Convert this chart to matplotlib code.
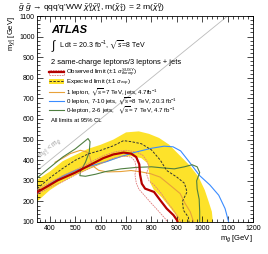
import matplotlib
matplotlib.use("Agg")
import matplotlib.pyplot as plt
import numpy as np
from matplotlib.legend import Legend
from matplotlib.lines import Line2D
from matplotlib.patches import Rectangle

plt.rcParams["font.family"] = ["Liberation Sans", "DejaVu Sans"]
plt.rcParams["mathtext.fontset"] = "custom"
plt.rcParams["mathtext.rm"] = "Liberation Sans"
plt.rcParams["mathtext.it"] = "Liberation Sans:italic"
plt.rcParams["mathtext.bf"] = "Liberation Sans:bold"
plt.rcParams["mathtext.fallback"] = "stixsans"

# expected +-1 sigma band
band_up_x = [350, 400, 450, 500, 550, 600, 650, 700, 750, 790, 830, 870, 910, 950, 985, 1010, 1025, 1038, 1042]
band_up_y = [305, 345, 395, 425, 455, 475, 500, 535, 540, 528, 508, 475, 425, 375, 320, 255, 200, 150, 100]
band_lo_x = [350, 400, 450, 500, 560, 620, 680, 720, 760, 785, 792, 795, 810, 840, 870, 895, 905]
band_lo_y = [200, 255, 295, 328, 360, 390, 415, 420, 410, 385, 330, 290, 255, 220, 175, 135, 100]

# expected limit
exp_x = [350, 400, 450, 500, 550, 600, 650, 690, 720, 760, 800, 835, 860, 900, 930, 940, 922, 926, 945, 948]
exp_y = [262, 315, 360, 400, 430, 448, 470, 495, 490, 480, 450, 400, 350, 318, 288, 246, 200, 157, 124, 100]

# observed limit and theory +-1 sigma
obs_x = [350, 400, 430, 500, 560, 610, 650, 690, 720, 740, 752, 755, 762, 775, 810, 835, 860, 887, 900, 903]
obs_y = [245, 280, 302, 340, 378, 410, 428, 437, 432, 415, 380, 330, 286, 262, 246, 205, 165, 133, 110, 100]
obs_up_x = [350, 400, 450, 500, 560, 610, 660, 700, 740, 765, 780, 790, 780, 790, 810, 835, 860, 885, 905, 915]
obs_up_y = [255, 292, 325, 352, 390, 422, 442, 448, 440, 425, 400, 370, 335, 300, 280, 245, 200, 160, 125, 100]
obs_dn_x = [350, 400, 450, 500, 560, 610, 650, 690, 720, 735, 740, 735, 740, 750, 775, 800, 830, 855, 862]
obs_dn_y = [235, 268, 295, 328, 362, 390, 410, 420, 415, 395, 360, 330, 290, 260, 225, 190, 150, 115, 100]

# 1 lepton, 7 TeV
lep1_x = [420, 450, 480, 520, 545, 555, 566, 592, 625, 680, 720, 760, 795, 834, 874, 913, 933, 953, 966]
lep1_y = [390, 410, 432, 448, 440, 425, 375, 351, 343, 345, 350, 343, 335, 318, 278, 238, 189, 149, 100]

# 0 lepton, 7-10 jets, 8 TeV
lep0a_x = [350, 400, 450, 500, 560, 620, 680, 740, 800, 850, 885, 915, 950, 990, 1030, 1065, 1090, 1104]
lep0a_y = [240, 285, 322, 350, 372, 392, 418, 440, 458, 468, 465, 445, 390, 325, 280, 230, 165, 100]

# 0 lepton, 2-6 jets, 7 TeV
lep0b_x = [350, 400, 450, 500, 535, 550, 558, 555, 540, 520, 518, 540, 580, 620, 680, 740, 800, 850, 890,
           930, 960, 980, 990, 978, 980, 988, 990, 990]
lep0b_y = [315, 365, 415, 455, 490, 505, 490, 440, 390, 345, 325, 322, 332, 345, 358, 365, 368, 362, 358,
           368, 378, 368, 340, 300, 260, 210, 150, 100]

diag_x = [350, 1100]
diag_y = [350, 1100]

RED = "#b40000"
PINK = "#e07a7a"
YELLOW = "#fde22a"
ORANGE = "#e8a23a"
BLUE = "#3a8cff"
GREEN = "#4f7f40"
DASH = "#333333"

fig = plt.figure(figsize=(2.68, 2.54), dpi=100)
ax = fig.add_axes([0.139, 0.126, 0.805, 0.811])

band_x = np.concatenate([band_up_x, band_lo_x[::-1]])
band_y = np.concatenate([band_up_y, band_lo_y[::-1]])
ax.fill(band_x, band_y, color=YELLOW, lw=0, zorder=1)

ax.plot(diag_x, diag_y, color="#bbbbbb", lw=0.6, zorder=1)
ax.plot(lep1_x, lep1_y, color=ORANGE, lw=0.8, zorder=2)
ax.plot(lep0a_x, lep0a_y, color=BLUE, lw=0.8, zorder=2)
ax.plot(lep0b_x, lep0b_y, color=GREEN, lw=0.8, zorder=2)
ax.plot(exp_x, exp_y, color=DASH, lw=0.7, ls=(0, (2.5, 1.5)), zorder=3)
ax.plot(obs_up_x, obs_up_y, color=PINK, lw=0.6, ls=(0, (2, 1)), zorder=3)
ax.plot(obs_dn_x, obs_dn_y, color=PINK, lw=0.6, ls=(0, (2, 1)), zorder=3)
ax.plot(obs_x, obs_y, color=RED, lw=1.6, zorder=4)

ax.set_xlim(350, 1200)
ax.set_ylim(100, 1100)
ax.set_xticks(np.arange(400, 1201, 100))
ax.set_yticks(np.arange(100, 1101, 100))
ax.set_xticks(np.arange(360, 1201, 20), minor=True)
ax.set_yticks(np.arange(100, 1101, 20), minor=True)
ax.tick_params(which="both", direction="in", top=True, right=True, labelsize=5, pad=2, width=0.5)
ax.tick_params(which="major", length=4)
ax.tick_params(which="minor", length=2)
for s in ax.spines.values():
    s.set_linewidth(0.6)

ax.set_xlabel(r"m$_{\tilde{g}}$ [GeV]", fontsize=5.5, loc="right", labelpad=1)
ax.set_ylabel(r"m$_{\tilde{\chi}^0_1}$ [GeV]", fontsize=5.5, loc="top", labelpad=1)
ax.set_title(r"$\tilde{g}$ $\tilde{g}$ → qqq'q'WW $\tilde{\chi}^0_1\tilde{\chi}^0_1$, "
             r"m($\tilde{\chi}^{\pm}_1$) = 2 m($\tilde{\chi}^0_1$)",
             fontsize=6.1, loc="left", x=-0.09, pad=4)

ax.text(0.063, 0.93, "ATLAS", transform=ax.transAxes, fontsize=8, fontweight="bold",
        fontstyle="italic", va="center")
ax.text(0.063, 0.855, r"$\int$", transform=ax.transAxes, fontsize=8.5, va="center")
ax.text(0.1, 0.855, r"L dt = 20.3 fb$^{-1}$, $\sqrt{s}$=8 TeV", transform=ax.transAxes,
        fontsize=5, va="center")
ax.text(0.063, 0.772, "2 same-charge leptons/3 leptons + jets", transform=ax.transAxes,
        fontsize=5.4, va="center")
ax.text(0.063, 0.492, "All limits at 95% CL", transform=ax.transAxes, fontsize=4.2, va="center")
ax.text(400, 455, r"m$_{\tilde{\chi}^0_1}$ < m$_{\tilde{g}}$", fontsize=4.8, color="#999999",
        rotation=39, ha="center", va="center")

# legend: one row per entry so the row spacing matches
legend_rows = [
    ((Rectangle((0, 0), 1, 1, fc="none", ec=PINK, ls=(0, (2, 1)), lw=0.6),
      Line2D([], [], color=RED, lw=1.6)),
     r"Observed limit ($\pm$1 $\sigma^{SUSY}_{theory}$)", 0.724),
    ((Rectangle((0, 0), 1, 1, fc=YELLOW, ec="none"),
      Line2D([], [], color=DASH, lw=0.7, ls=(0, (2.5, 1.5)))),
     r"Expected limit ($\pm$1 $\sigma_{exp}$)", 0.677),
    (Line2D([], [], color=ORANGE, lw=0.8),
     r"1 lepton, $\sqrt{s}$=7 TeV, jets, 4.7fb$^{-1}$", 0.632),
    (Line2D([], [], color=BLUE, lw=0.8),
     r"0 lepton, 7-10 jets, $\sqrt{s}$=8 TeV, 20.3 fb$^{-1}$", 0.588),
    (Line2D([], [], color=GREEN, lw=0.8),
     r"0-lepton, 2-6 jets,   $\sqrt{s}$= 7 TeV, 4.7 fb$^{-1}$", 0.544),
]
for handle, label, ypos in legend_rows:
    leg = Legend(ax, [handle], [label], loc="center left", bbox_to_anchor=(0.055, ypos),
                 frameon=False, fontsize=4.4, handlelength=2.4, handleheight=0.9,
                 handletextpad=0.4, borderpad=0, borderaxespad=0)
    ax.add_artist(leg)

fig.savefig("out.png", dpi=100)
